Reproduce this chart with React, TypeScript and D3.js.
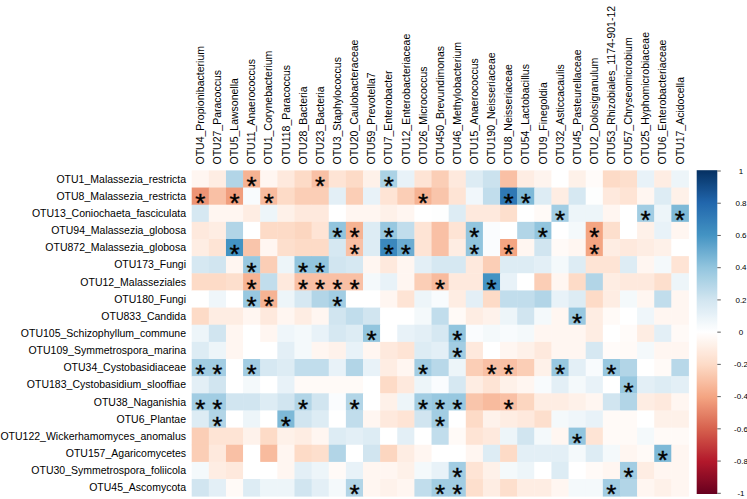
import React from "react";
import * as d3 from "d3";

const rowLabels = [
  "OTU1_Malassezia_restricta",
  "OTU8_Malassezia_restricta",
  "OTU13_Coniochaeta_fasciculata",
  "OTU94_Malassezia_globosa",
  "OTU872_Malassezia_globosa",
  "OTU173_Fungi",
  "OTU12_Malasseziales",
  "OTU180_Fungi",
  "OTU833_Candida",
  "OTU105_Schizophyllum_commune",
  "OTU109_Symmetrospora_marina",
  "OTU34_Cystobasidiaceae",
  "OTU183_Cystobasidium_slooffiae",
  "OTU38_Naganishia",
  "OTU6_Plantae",
  "OTU122_Wickerhamomyces_anomalus",
  "OTU157_Agaricomycetes",
  "OTU30_Symmetrospora_foliicola",
  "OTU45_Ascomycota",
];

const colLabels = [
  "OTU4_Propionibacterium",
  "OTU27_Paracoccus",
  "OTU5_Lawsonella",
  "OTU11_Anaerococcus",
  "OTU1_Corynebacterium",
  "OTU118_Paracoccus",
  "OTU28_Bacteria",
  "OTU23_Bacteria",
  "OTU3_Staphylococcus",
  "OTU20_Caulobacteraceae",
  "OTU59_Prevotella7",
  "OTU7_Enterobacter",
  "OTU12_Enterobacteriaceae",
  "OTU26_Micrococcus",
  "OTU450_Brevundimonas",
  "OTU46_Methylobacterium",
  "OTU15_Anaerococcus",
  "OTU190_Neisseriaceae",
  "OTU8_Neisseriaceae",
  "OTU54_Lactobacillus",
  "OTU9_Finegoldia",
  "OTU32_Asticcacaulis",
  "OTU45_Pasteurellaceae",
  "OTU2_Dolosigranulum",
  "OTU53_Rhizobiales_1174-901-12",
  "OTU57_Chryseomicrobium",
  "OTU25_Hyphomicrobiaceae",
  "OTU6_Enterobacteriaceae",
  "OTU17_Acidocella",
];

// correlation values, one array per row (fungal OTU), columns as colLabels
const corr: number[][] = [
  [-0.05, -0.1, 0.3, -0.35, -0.05, -0.12, -0.2, -0.3, -0.15, -0.2, -0.08, 0.32, 0.1, -0.15, -0.25, -0.12, 0.15, 0.22, -0.3, -0.1, -0.06, 0, -0.08, -0.02, -0.2, -0.18, 0.1, -0.1, 0.08],
  [-0.45, -0.3, -0.42, 0.03, -0.32, -0.2, -0.25, -0.25, 0.12, -0.25, 0.1, -0.15, -0.25, -0.35, -0.28, -0.15, 0.06, 0.25, 0.72, 0.45, 0.15, -0.1, 0.18, 0.01, -0.12, -0.15, -0.05, 0.15, -0.08],
  [0.18, -0.05, -0.05, -0.1, 0.08, -0.08, -0.12, -0.12, 0, -0.05, -0.05, -0.08, -0.05, 0, 0.01, 0.15, -0.12, -0.12, -0.18, 0, -0.03, 0.35, 0.08, 0.08, -0.05, 0, 0.35, 0.08, 0.45],
  [-0.12, -0.1, 0.3, 0, -0.2, -0.2, -0.22, -0.15, 0.4, -0.35, 0.15, 0.38, 0.25, -0.15, -0.3, -0.15, 0.4, 0.02, 0, 0.3, 0.4, 0, 0.05, -0.4, -0.18, 0, -0.08, 0.1, -0.05],
  [-0.1, -0.15, 0.6, -0.28, -0.05, -0.18, -0.2, -0.2, 0.18, -0.3, 0.15, 0.65, 0.5, -0.15, -0.3, -0.1, 0.4, 0.02, -0.4, -0.05, 0.2, -0.03, -0.05, -0.4, -0.1, -0.12, -0.1, -0.08, 0],
  [0.18, 0.2, -0.05, 0.38, -0.25, 0.08, 0.4, 0.4, 0.2, 0.18, -0.05, -0.12, -0.05, 0.12, 0.18, 0.18, -0.12, -0.25, 0.15, 0.15, 0.12, 0.05, 0.15, -0.15, -0.15, 0.15, -0.05, 0.05, -0.15],
  [-0.2, -0.2, -0.18, -0.35, 0.25, -0.12, -0.3, -0.3, -0.3, -0.3, 0.05, 0.1, -0.05, -0.25, -0.32, -0.12, -0.12, 0.6, 0.1, 0, -0.25, -0.05, -0.2, 0.3, -0.1, -0.12, -0.12, -0.18, 0.08],
  [0, 0.07, 0, 0.38, -0.35, 0.08, 0.18, 0.3, 0.35, 0, 0, -0.05, -0.15, 0.08, 0.03, -0.1, 0.12, -0.2, 0.25, 0.25, 0.3, 0.1, 0.15, -0.2, -0.1, 0.05, -0.05, 0.25, -0.05],
  [-0.2, -0.1, -0.1, -0.05, -0.12, -0.05, -0.1, -0.05, 0.2, 0.25, 0.2, 0, 0, 0.05, 0.25, -0.03, -0.1, -0.07, 0.08, 0.2, 0.05, -0.05, 0.38, -0.1, -0.03, 0, 0.07, -0.05, -0.05],
  [0.08, 0.2, -0.05, 0, -0.05, 0.07, 0.05, 0.1, 0.18, 0.15, 0.4, 0, 0.1, 0.12, 0.18, 0.4, 0.02, 0.05, 0.03, 0.05, -0.05, -0.05, -0.05, -0.1, 0, -0.02, -0.1, 0.12, -0.03],
  [0.15, 0.08, -0.05, 0, 0, 0.12, 0.05, -0.05, -0.07, 0.1, -0.05, -0.12, -0.15, 0.15, 0.12, 0.35, -0.12, 0, -0.05, -0.08, -0.12, -0.05, -0.05, 0.18, -0.02, -0.03, 0.05, -0.05, -0.05],
  [0.35, 0.35, 0, 0.35, 0.18, 0.15, 0.25, 0.25, 0.1, 0.3, 0.1, -0.1, -0.05, 0.35, 0.28, 0.08, -0.25, -0.3, -0.3, -0.25, -0.08, 0.38, 0.12, 0.03, 0.38, 0.3, 0, -0.03, 0.28],
  [0.12, 0.2, 0, 0.05, 0, 0.1, -0.03, -0.03, -0.03, -0.03, 0, -0.2, -0.12, 0.08, 0.02, 0.18, -0.1, -0.15, -0.08, -0.05, 0.03, 0.12, 0.05, 0.1, 0, 0.38, 0.12, 0.15, 0.12],
  [0.35, 0.35, 0.2, 0.2, 0.15, 0.2, 0.3, 0.2, 0.02, 0.3, 0, -0.08, 0.08, 0.35, 0.38, 0.38, -0.28, -0.32, -0.3, -0.22, -0.1, -0.1, -0.08, -0.05, 0.2, 0.3, -0.1, -0.12, -0.05],
  [0.15, 0.3, 0, 0.08, 0, 0.45, 0.2, 0.15, 0, 0.25, -0.05, -0.12, -0.15, 0.2, 0.35, 0, -0.2, -0.07, -0.1, -0.12, -0.18, 0.05, 0.07, 0.1, -0.03, -0.03, 0, -0.08, -0.08],
  [-0.25, -0.15, -0.15, -0.07, -0.2, -0.08, -0.1, -0.05, 0.15, 0.12, 0.15, 0, 0.12, 0, 0.25, -0.03, -0.15, -0.12, 0.08, 0.2, 0.05, -0.05, 0.4, -0.15, -0.03, -0.03, 0.05, -0.03, -0.03],
  [-0.25, -0.12, -0.3, 0, -0.32, -0.05, -0.2, -0.18, 0.3, 0, 0.2, -0.22, -0.1, -0.05, 0, 0, -0.05, 0.15, -0.2, 0.12, 0.12, 0.12, 0.05, 0.15, 0.05, -0.05, -0.03, 0.45, -0.05],
  [0.05, -0.1, -0.12, 0, 0, -0.05, 0.12, 0.08, -0.03, 0.1, -0.05, -0.05, -0.08, 0.05, 0.1, 0.35, -0.15, -0.08, 0.05, 0.08, 0, 0.15, 0, -0.03, -0.05, 0.35, -0.1, -0.05, -0.05],
  [0.2, 0.12, -0.03, 0.15, 0.08, 0.08, 0.2, 0.12, 0.05, 0.3, -0.05, -0.07, -0.05, 0.25, 0.35, 0.35, -0.18, -0.1, -0.18, -0.1, -0.1, -0.05, 0.05, 0.05, 0.35, 0.3, -0.05, -0.08, -0.05],
];

// significant cells (1-based column numbers) per row
const sig: number[][] = [
  [4, 8, 12],
  [1, 3, 5, 14, 19, 20],
  [22, 27, 29],
  [9, 10, 12, 17, 21, 24],
  [3, 10, 12, 13, 17, 19, 24],
  [4, 7, 8],
  [4, 7, 8, 9, 10, 15, 18],
  [4, 5, 9],
  [23],
  [11, 16],
  [16],
  [1, 2, 4, 14, 18, 19, 22, 25],
  [26],
  [1, 2, 7, 10, 14, 15, 16, 19],
  [2, 6, 15],
  [23],
  [28],
  [16, 26],
  [10, 15, 16, 25],
];

const legendTicks = [1, 0.8, 0.6, 0.4, 0.2, 0, -0.2, -0.4, -0.6, -0.8, -1];
const legendTickLabels = ["1", "0.8", "0.6", "0.4", "0.2", "0", "-0.2", "-0.4", "-0.6", "-0.8", "-1"];

const paletteStops = [-1, -0.8, -0.6, -0.4, -0.2, 0, 0.2, 0.4, 0.6, 0.8, 1];
const paletteColors = [
  "#67001F", "#B2182B", "#D6604D", "#F4A582", "#FDDBC7", "#FFFFFF",
  "#D1E5F0", "#92C5DE", "#4393C3", "#2166AC", "#053061",
];

const FONT = "'Liberation Sans', Arial, Helvetica, sans-serif";

export default function App() {
  const W = 747;
  const H = 499;
  const gx0 = 191.7, gx1 = 688.5;
  const gy0 = 170.4, gy1 = 496.2;

  const x = d3.scaleBand<string>().domain(colLabels).range([gx0, gx1]);
  const y = d3.scaleBand<string>().domain(rowLabels).range([gy0, gy1]);
  const color = d3.scaleLinear<string>().domain(paletteStops).range(paletteColors).interpolate(d3.interpolateRgb).clamp(true);

  const barX = 696.7, barW = 20.6;
  const ly = d3.scaleLinear().domain([1, -1]).range([171, 493.3]);
  const barTop = 170.2, barBottom = 494;

  const bw = x.bandwidth();
  const bh = y.bandwidth();
  const starSize = 26;

  const gradStops = d3.range(0, 101).map((i) => {
    const v = 1 - (i / 100) * 2;
    return { offset: `${i}%`, color: color(v) };
  });

  return (
    <svg width={W} height={H} style={{ position: "absolute", left: 0, top: 0, background: "#fff" }} fontFamily={FONT}>
      <rect x={0} y={0} width={W} height={H} fill="#fff" />
      <defs>
        <linearGradient id="cbar" x1="0" y1="0" x2="0" y2="1">
          {gradStops.map((s, i) => (
            <stop key={i} offset={s.offset} stopColor={s.color} />
          ))}
        </linearGradient>
      </defs>
      {/* cells */}
      <g>
        {rowLabels.map((r, ri) =>
          colLabels.map((c, ci) => (
            <rect
              key={`${ri}-${ci}`}
              x={x(c)!}
              y={y(r)!}
              width={bw + 0.4}
              height={bh + 0.4}
              fill={color(corr[ri][ci])}
            />
          ))
        )}
      </g>
      {/* significance stars */}
      <g>
        {rowLabels.map((r, ri) =>
          sig[ri].map((cn) => {
            const c = colLabels[cn - 1];
            const cx = x(c)! + bw / 2;
            const cy = y(r)! + bh / 2;
            return (
              <text
                key={`s-${ri}-${cn}`}
                x={cx}
                y={cy + starSize * 0.57 + 1}
                textAnchor="middle"
                fontSize={starSize}
                fill="#000"
                stroke="#000"
                strokeWidth={0.4}
              >
                *
              </text>
            );
          })
        )}
      </g>
      {/* row labels */}
      <g>
        {rowLabels.map((r) => (
          <text key={r} x={186} y={y(r)! + bh / 2} dy="0.35em" textAnchor="end" fontSize={10.5} fill="#000">
            {r}
          </text>
        ))}
      </g>
      {/* column labels */}
      <g>
        {colLabels.map((c) => (
          <text
            key={c}
            transform={`translate(${x(c)! + bw / 2},164.5) rotate(-90)`}
            dy="0.35em"
            textAnchor="start"
            fontSize={10.5}
            fill="#000"
          >
            {c}
          </text>
        ))}
      </g>
      {/* color legend */}
      <rect x={barX} y={barTop} width={barW} height={barBottom - barTop} fill="url(#cbar)" />
      <g>
        {legendTicks.map((v, i) => (
          <g key={i}>
            <line x1={barX + barW} x2={barX + barW + 3.5} y1={ly(v)} y2={ly(v)} stroke="#333" strokeWidth={0.8} />
            <text x={741} y={ly(v)} dy="0.35em" textAnchor="middle" fontSize={8} fill="#000">
              {legendTickLabels[i]}
            </text>
          </g>
        ))}
      </g>
    </svg>
  );
}
